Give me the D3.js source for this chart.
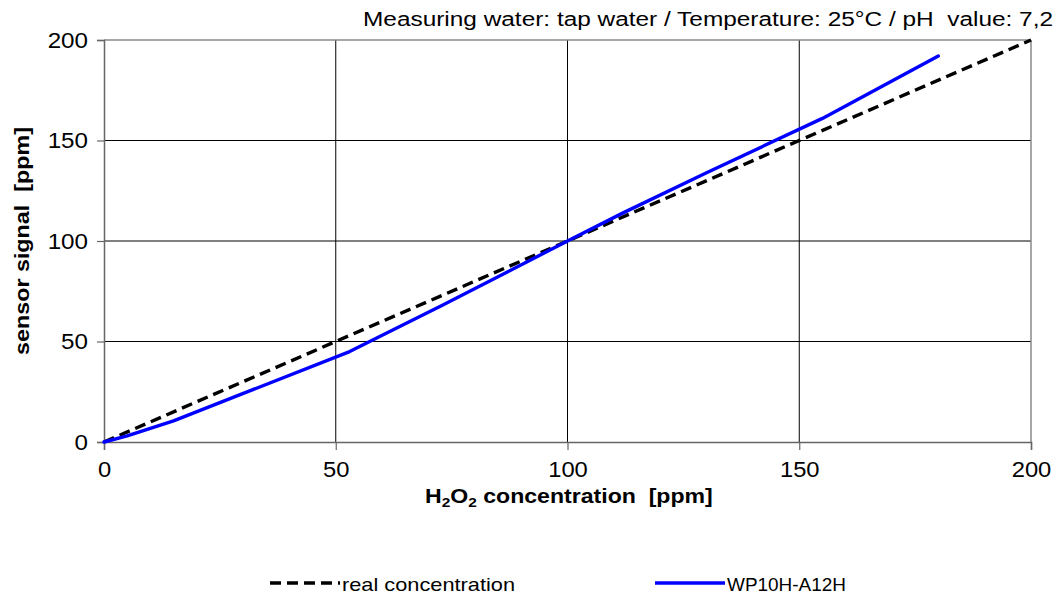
<!DOCTYPE html>
<html><head><meta charset="utf-8">
<script src="https://cdn.jsdelivr.net/npm/d3@7"></script>
<style>body{margin:0;background:#fff;}svg{display:block;font-family:"Liberation Sans",Arial,sans-serif;} text{white-space:pre;}</style>
</head><body>
<svg id="c" width="1060" height="603"></svg>
<script>
const xTicks = [0, 50, 100, 150, 200];
const yTicks = [0, 50, 100, 150, 200];
const realX = [0, 50, 100, 150, 200];
const realY = [0, 50, 100, 150, 200];
const sensorX = [0, 5, 15, 53, 73, 100, 112, 130, 155, 180];
const sensorY = [0, 3, 10.5, 45, 68, 100, 114, 134, 161, 192];
const seriesNames = ["real concentration", "WP10H-A12H"];
const titleText = "Measuring water: tap water / Temperature: 25°C / pH  value: 7,2";

const svg = d3.select("#c");
const L = 104, R = 1031, T = 40, B = 442;
const x = d3.scaleLinear().domain([0, 200]).range([L, R]);
const y = d3.scaleLinear().domain([0, 200]).range([B, T]);

// grid
svg.append("g").selectAll("line").data(xTicks.filter(d => d > 0 && d < 200)).join("line")
  .attr("x1", d => x(d)).attr("x2", d => x(d)).attr("y1", T).attr("y2", B)
  .attr("stroke", "#000").attr("stroke-width", 1);
svg.append("g").selectAll("line").data(yTicks.filter(d => d > 0 && d < 200)).join("line")
  .attr("y1", d => y(d)).attr("y2", d => y(d)).attr("x1", L).attr("x2", R)
  .attr("stroke", "#000").attr("stroke-width", 1);
// border top/right
svg.append("line").attr("x1", L).attr("x2", R).attr("y1", T).attr("y2", T).attr("stroke", "#888").attr("stroke-width", 1.5);
svg.append("line").attr("x1", R).attr("x2", R).attr("y1", T).attr("y2", B).attr("stroke", "#888").attr("stroke-width", 1.5);

// axes
const xAxis = svg.append("g").attr("transform", `translate(0,${B})`)
  .call(d3.axisBottom(x).tickValues(xTicks).tickSize(8).tickPadding(11));
const yAxis = svg.append("g").attr("transform", `translate(${L},0)`)
  .call(d3.axisLeft(y).tickValues(yTicks).tickSize(7).tickPadding(9));
[xAxis, yAxis].forEach(a => {
  a.select(".domain").attr("stroke", "#666").attr("stroke-width", 1.5);
  a.selectAll(".tick line").attr("stroke", "#666").attr("stroke-width", 1.2);
  a.selectAll("text").attr("font-size", 22).attr("fill", "#000").attr("font-family", "Liberation Sans, Arial, sans-serif");
});
yAxis.selectAll("text").attr("dy", "0.34em");
xAxis.selectAll(".tick text").attr("transform", "scale(1.08,1)");
yAxis.selectAll(".tick text").each(function() {
  d3.select(this).attr("transform", `translate(${-9 - 7},0) scale(1.1,1) translate(${9 + 7},0)`);
});

// lines
const line = d3.line().x(d => x(d[0])).y(d => y(d[1]));
svg.append("path").datum(realX.map((v, i) => [v, realY[i]]))
  .attr("d", line).attr("fill", "none").attr("stroke", "#000").attr("stroke-width", 3.4)
  .attr("stroke-dasharray", "11,6");
svg.append("path").datum(sensorX.map((v, i) => [v, sensorY[i]]))
  .attr("d", line).attr("fill", "none").attr("stroke", "#0000ff").attr("stroke-width", 3.4)
  .attr("stroke-linejoin", "round").attr("stroke-linecap", "round");

// title
svg.append("text").attr("x", 363).attr("y", 26)
  .attr("font-size", 20).attr("textLength", 690).attr("lengthAdjust", "spacingAndGlyphs").text(titleText);

// x axis title
const xt = svg.append("text").attr("x", 425).attr("y", 503)
  .attr("font-size", 19.5).attr("font-weight", "bold");
xt.append("tspan").text("H");
xt.append("tspan").text("2").attr("font-size", 13).attr("dy", 4);
xt.append("tspan").text("O").attr("dy", -4);
xt.append("tspan").text("2").attr("font-size", 13).attr("dy", 4);
xt.append("tspan").text(" concentration  [ppm]").attr("dy", -4);
{
  const bb = xt.node().getBBox();
  const s = 288 / bb.width;
  xt.attr("transform", `translate(425,0) scale(${s},1) translate(-425,0)`);
}

// y axis title
svg.append("text").attr("transform", `translate(29,${(T + B) / 2}) rotate(-90)`)
  .attr("text-anchor", "middle").attr("font-size", 19.5).attr("font-weight", "bold")
  .attr("textLength", 228).attr("lengthAdjust", "spacingAndGlyphs")
  .text("sensor signal  [ppm]");

// legend
const lg = svg.append("g");
lg.append("line").attr("x1", 270).attr("x2", 340).attr("y1", 583).attr("y2", 583)
  .attr("stroke", "#000").attr("stroke-width", 3.4).attr("stroke-dasharray", "11,6");
lg.append("text").attr("x", 342).attr("y", 591).attr("font-size", 19)
  .attr("textLength", 173).attr("lengthAdjust", "spacingAndGlyphs").text(seriesNames[0]);
lg.append("line").attr("x1", 655).attr("x2", 725).attr("y1", 583).attr("y2", 583)
  .attr("stroke", "#0000ff").attr("stroke-width", 3.4);
lg.append("text").attr("x", 727).attr("y", 591).attr("font-size", 19)
  .attr("textLength", 119).attr("lengthAdjust", "spacingAndGlyphs").text(seriesNames[1]);
</script>
</body></html>
